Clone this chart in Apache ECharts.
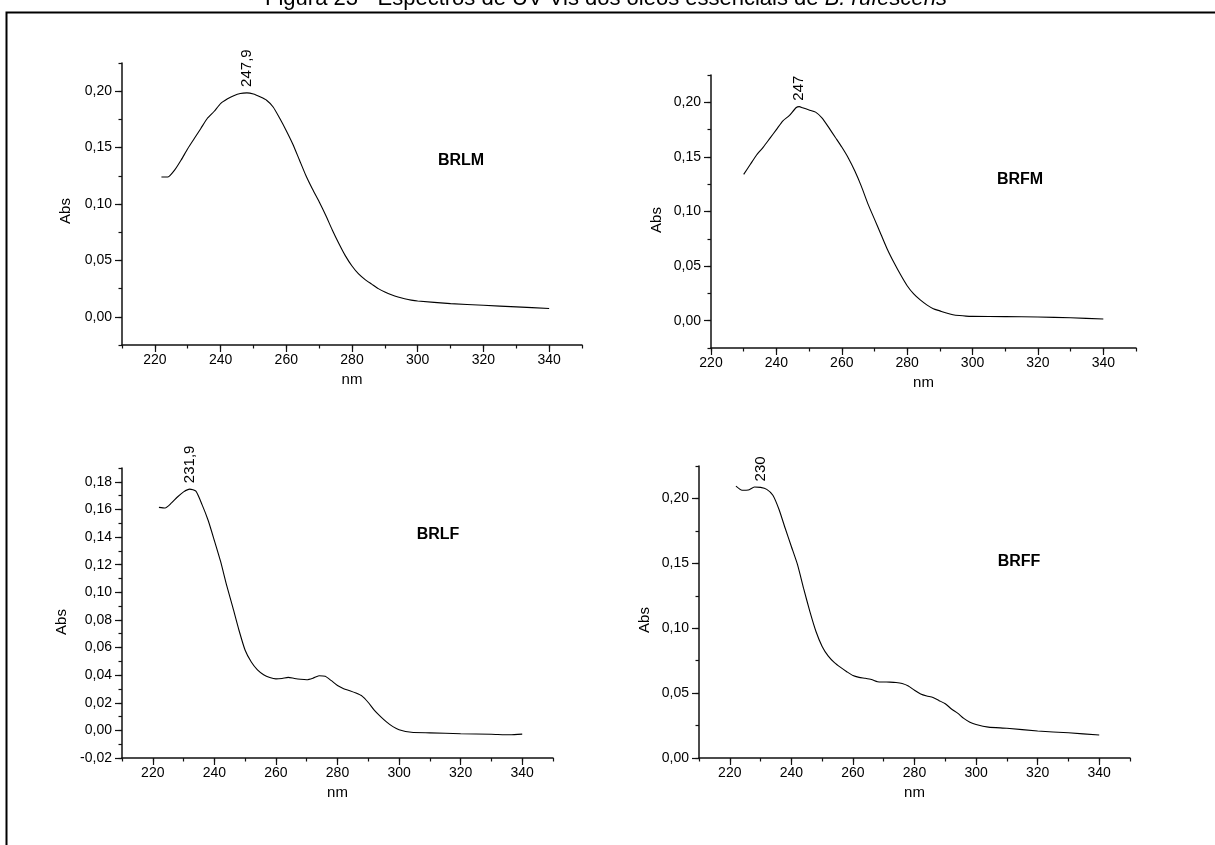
<!DOCTYPE html>
<html>
<head>
<meta charset="utf-8">
<script src="https://cdn.jsdelivr.net/npm/echarts@6/dist/echarts.min.js"></script>
<style>
  html, body { margin: 0; padding: 0; background: #fff; }
  #chart { width: 1215px; height: 845px; }
</style>
</head>
<body>
<div id="chart"></div>
<script>
// BRLM
const brlmNm = [222, 224, 226, 228, 230, 232, 234, 236, 238, 240, 242, 244, 246, 248, 250, 252, 254, 256, 258, 260,
  262, 264, 266, 268, 270, 272, 274, 276, 278, 280, 282, 284, 286, 288, 290, 292, 294, 296, 298, 300, 310, 320, 330, 340]
const brlmAbs = [0.124, 0.124, 0.130, 0.139, 0.149, 0.158, 0.167, 0.176, 0.182, 0.189, 0.193, 0.196, 0.198, 0.1985, 0.1975,
  0.195, 0.192, 0.186, 0.176, 0.165, 0.153, 0.139, 0.125, 0.113, 0.102, 0.090, 0.077, 0.065, 0.054, 0.045, 0.038, 0.033,
  0.029, 0.025, 0.022, 0.0195, 0.0175, 0.016, 0.0148, 0.014, 0.0117, 0.0102, 0.0088, 0.0074]

// BRFM
const brfmNm = [230, 232, 234, 236, 238, 240, 242, 244, 246, 247, 248, 250, 252, 254, 256, 258, 260, 262, 264, 266, 268,
  270, 272, 274, 276, 278, 280, 282, 284, 286, 288, 290, 292, 294, 296, 298, 300, 310, 320, 330, 340]
const brfmAbs = [0.134, 0.143, 0.152, 0.159, 0.167, 0.175, 0.183, 0.188, 0.195, 0.196, 0.195, 0.193, 0.191, 0.1855, 0.177,
  0.168, 0.159, 0.149, 0.137, 0.123, 0.107, 0.093, 0.079, 0.065, 0.053, 0.042, 0.032, 0.0245, 0.019, 0.0145, 0.011, 0.009,
  0.007, 0.0055, 0.0047, 0.0042, 0.004, 0.0037, 0.0034, 0.0027, 0.0015]

// BRLF
const brlfNm = [222, 224, 226, 228, 230, 232, 234, 236, 238, 240, 242, 244, 246, 248, 250, 252, 254, 256, 258, 260,
  262, 264, 266, 268, 270, 272, 274, 276, 278, 280, 282, 284, 286, 288, 290, 292, 294, 296, 298, 300, 304, 310, 320, 330, 336, 340]
const brlfAbs = [0.1615, 0.161, 0.1645, 0.169, 0.1727, 0.1747, 0.1732, 0.1635, 0.152, 0.1375, 0.1225, 0.105, 0.089, 0.0725,
  0.058, 0.0495, 0.0438, 0.0403, 0.0383, 0.0373, 0.0376, 0.0384, 0.0376, 0.037, 0.0367, 0.0378, 0.0396, 0.0392, 0.036,
  0.0325, 0.0302, 0.0287, 0.027, 0.0248, 0.0202, 0.0145, 0.010, 0.006, 0.0027, 0.0005, -0.0014, -0.0018, -0.0024,
  -0.0028, -0.0032, -0.0027]

// BRFF
const brffNm = [222, 224, 226, 228, 230, 232, 234, 236, 238, 240, 242, 244, 246, 248, 250, 252, 254, 256, 258, 260,
  262, 264, 266, 268, 270, 272, 274, 276, 278, 280, 282, 284, 286, 288, 290, 292, 294, 296, 298, 300, 304, 310, 320, 330, 340]
const brffAbs = [0.2095, 0.2063, 0.2065, 0.2088, 0.2085, 0.207, 0.2025, 0.1915, 0.177, 0.163, 0.149, 0.1305, 0.113, 0.0975,
  0.086, 0.0785, 0.0735, 0.0698, 0.0665, 0.0635, 0.0621, 0.0614, 0.0605, 0.0588, 0.0586, 0.0585, 0.0582, 0.0574, 0.0555,
  0.0522, 0.0494, 0.0478, 0.0466, 0.0442, 0.0418, 0.0378, 0.0346, 0.0305, 0.0276, 0.0258, 0.0238, 0.0229, 0.0208,
  0.0194, 0.0177]

// picos marcados
const peakNm = [247.9, 247, 231.9, 230]
const peakAbs = [0.1985, 0.196, 0.1747, 0.2085]
const peakText = ['247,9', '247', '231,9', '230']
const sampleNames = ['BRLM', 'BRFM', 'BRLF', 'BRFF']

// rótulos dos eixos
const xTicks = [220, 240, 260, 280, 300, 320, 340]
const yTicks005 = [0, 0.05, 0.10, 0.15, 0.20]
const yTicks002 = [-0.02, 0, 0.02, 0.04, 0.06, 0.08, 0.10, 0.12, 0.14, 0.16, 0.18]

const FONT = '"Liberation Sans", Arial, sans-serif'
const AXIS_COLOR = '#111'

const panels = [
  { nm: brlmNm, abs: brlmAbs, grid: { left: 122, top: 63, width: 460, height: 282 },
    xMin: 210, xMax: 350, yMin: -0.025, yMax: 0.225, yTicks: yTicks005, yStep: 0.025,
    absPos: [66, 211], namePos: [461, 161] },
  { nm: brfmNm, abs: brfmAbs, grid: { left: 711, top: 75, width: 425, height: 273 },
    xMin: 220, xMax: 350, yMin: -0.025, yMax: 0.225, yTicks: yTicks005, yStep: 0.025,
    absPos: [657, 220], namePos: [1020, 180] },
  { nm: brlfNm, abs: brlfAbs, grid: { left: 122, top: 468, width: 431, height: 290 },
    xMin: 210, xMax: 350, yMin: -0.02, yMax: 0.19, yTicks: yTicks002, yStep: 0.01,
    absPos: [62, 622], namePos: [438, 535] },
  { nm: brffNm, abs: brffAbs, grid: { left: 699, top: 466, width: 431, height: 292 },
    xMin: 210, xMax: 350, yMin: 0, yMax: 0.225, yTicks: yTicks005, yStep: 0.025,
    absPos: [645, 620], namePos: [1019, 562] }
]

function fmtComma(v) {
  return v.toFixed(2).replace('.', ',')
}

let grids = []
let xAxes = []
let yAxes = []
let series = []
let graphics = [
  { // moldura da figura
    type: 'polyline',
    shape: { points: [[6.5, 845], [6.5, 12.5], [1215, 12.5]] },
    style: { stroke: '#000', lineWidth: 2, fill: null }
  },
  {
    type: 'text',
    x: 606,
    y: 10,
    style: {
      text: '{a|Figura 23 - Espectros de UV-Vis dos óleos essenciais de }{b|B. rufescens}',
      align: 'center',
      verticalAlign: 'bottom',
      rich: {
        a: { fontFamily: FONT, fontSize: 22, fill: '#000' },
        b: { fontFamily: FONT, fontSize: 22, fontStyle: 'italic', fill: '#000' }
      }
    }
  }
]

panels.map((p, i) => {
  grids.push(Object.assign({ containLabel: false }, p.grid))
  // eixo principal x (rótulos + traços longos)
  xAxes.push({
    type: 'value',
    gridIndex: i,
    position: 'bottom',
    min: p.xMin,
    max: p.xMax,
    name: 'nm',
    nameLocation: 'middle',
    nameGap: 27,
    nameTextStyle: { fontFamily: FONT, fontSize: 15, color: '#000' },
    axisLine: { show: true, onZero: false, lineStyle: { color: AXIS_COLOR, width: 1.5 } },
    axisTick: { show: true, length: 7, customValues: xTicks, lineStyle: { color: AXIS_COLOR, width: 1.2 } },
    axisLabel: { customValues: xTicks, fontFamily: FONT, fontSize: 14, color: '#000', margin: 8 },
    splitLine: { show: false }
  })
  // eixo x secundário (traços curtos)
  xAxes.push({
    type: 'value',
    gridIndex: i,
    position: 'bottom',
    min: p.xMin,
    max: p.xMax,
    interval: 10,
    axisLine: { show: false, onZero: false },
    axisTick: { show: true, length: 3.5, lineStyle: { color: AXIS_COLOR, width: 1.2 } },
    axisLabel: { show: false },
    splitLine: { show: false }
  })
  yAxes.push({
    type: 'value',
    gridIndex: i,
    position: 'left',
    min: p.yMin,
    max: p.yMax,
    axisLine: { show: true, onZero: false, lineStyle: { color: AXIS_COLOR, width: 1.5 } },
    axisTick: { show: true, length: 7, customValues: p.yTicks, lineStyle: { color: AXIS_COLOR, width: 1.2 } },
    axisLabel: { customValues: p.yTicks, formatter: fmtComma, fontFamily: FONT, fontSize: 14, color: '#000', margin: 10 },
    splitLine: { show: false }
  })
  yAxes.push({
    type: 'value',
    gridIndex: i,
    position: 'left',
    min: p.yMin,
    max: p.yMax,
    interval: p.yStep,
    axisLine: { show: false, onZero: false },
    axisTick: { show: true, length: 3.5, lineStyle: { color: AXIS_COLOR, width: 1.2 } },
    axisLabel: { show: false },
    splitLine: { show: false }
  })
  series.push({
    type: 'line',
    xAxisIndex: i * 2,
    yAxisIndex: i * 2,
    showSymbol: false,
    smooth: 0.2,
    lineStyle: { color: '#000', width: 1.1 },
    data: p.nm.map((x, k) => [x, p.abs[k]]),
    markPoint: {
      symbol: 'circle',
      symbolSize: 0,
      data: [{ coord: [peakNm[i], peakAbs[i]], value: peakText[i] }],
      label: {
        show: true,
        position: 'top',
        distance: 6,
        rotate: 90,
        align: 'left',
        verticalAlign: 'middle',
        formatter: peakText[i],
        fontFamily: FONT,
        fontSize: 15,
        color: '#000'
      }
    }
  })
  graphics.push({
    type: 'text',
    x: p.absPos[0],
    y: p.absPos[1],
    rotation: Math.PI / 2,
    style: { text: 'Abs', fontFamily: FONT, fontSize: 15, fill: '#000', align: 'center', verticalAlign: 'middle' }
  })
  graphics.push({
    type: 'text',
    x: p.namePos[0],
    y: p.namePos[1],
    style: { text: sampleNames[i], fontFamily: FONT, fontSize: 16, fontWeight: 'bold', fill: '#000', align: 'center', verticalAlign: 'middle' }
  })
})

const myEchart = echarts.init(document.getElementById('chart'))
myEchart.setOption({
  animation: false,
  backgroundColor: '#fff',
  grid: grids,
  xAxis: xAxes,
  yAxis: yAxes,
  series: series,
  graphic: graphics
})
</script>
</body>
</html>
